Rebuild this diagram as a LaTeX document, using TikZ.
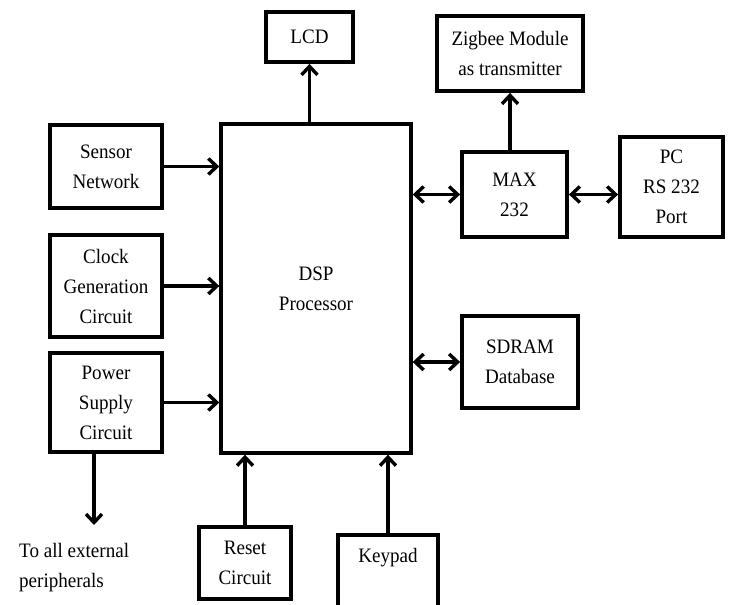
\documentclass[tikz,border=0pt]{standalone}
\usepackage{fontspec}
\setmainfont{Liberation Serif}[FakeStretch=0.93]
\usetikzlibrary{arrows.meta}
\begin{document}
\begin{tikzpicture}[x=1pt,y=-1pt,
  tip/.style={Straight Barb[length=8.5pt,width=16pt,line width=3.4pt]},
  box/.style={draw, line width=3.8pt, rectangle, align=center, inner sep=0pt,
    font=\fontsize{20.5}{30}\selectfont},
  conn/.style={line width=3.2pt, -{Straight Barb[length=8.5pt,width=16pt,line width=3.4pt]}},
  bconn/.style={line width=3.2pt, {Straight Barb[length=8.5pt,width=16pt,line width=3.4pt]}-{Straight Barb[length=8.5pt,width=16pt,line width=3.4pt]}},
  lbl/.style={align=left, inner sep=0pt, font=\fontsize{20.5}{30}\selectfont}]
\useasboundingbox (0,0) rectangle (729,605);
\fill[white] (0,0) rectangle (729,605);
\begin{scope}
\clip (0,0) rectangle (729,605);
\node[box, minimum width=87, minimum height=50] (lcd) at (309.5,37) {LCD};
\node[box, minimum width=146, minimum height=75] (zig) at (510,53.5) {Zigbee Module\\as transmitter};
\node[box, minimum width=112, minimum height=83] (sens) at (106,166.5) {Sensor\\Network};
\node[box, minimum width=112, minimum height=102] (clk) at (106,286) {Clock\\Generation\\Circuit};
\node[box, minimum width=112, minimum height=99] (pwr) at (106,402.5) {Power\\Supply\\Circuit};
\node[box, line width=3.4pt, minimum width=190, minimum height=329] (dsp) at (316,288.5) {DSP\\Processor};
\node[box, minimum width=105, minimum height=85] (max) at (514.5,194.5) {MAX\\232};
\node[box, minimum width=103, minimum height=100] (pc) at (671.5,187) {PC\\RS 232\\Port};
\node[box, minimum width=116, minimum height=92] (sdram) at (520,362) {SDRAM\\Database};
\node[box, minimum width=92, minimum height=72] (rst) at (245,563) {Reset\\Circuit};
\node[box, minimum width=100, anchor=north, inner ysep=13pt, text height=15pt, text depth=80pt] (key) at (388,533) {Keypad};
\node[lbl, anchor=west] (ext) at (19,568) {To all external\\peripherals};
\coordinate (pwrend) at (94,525);

\draw[conn] (lcd.south |- dsp.north) -- (lcd.south);
\draw[conn] (zig.south |- max.north) -- (zig.south);
\draw[conn] (sens.east) -- (sens.east -| dsp.west);
\draw[conn] (clk.east) -- (clk.east -| dsp.west);
\draw[conn] (pwr.east) -- (pwr.east -| dsp.west);
\draw[bconn] (max.west -| dsp.east) -- (max.west);
\draw[bconn] (max.east) -- (max.east -| pc.west);
\draw[bconn] (sdram.west -| dsp.east) -- (sdram.west);
\draw[conn] (rst.north) -- (rst.north |- dsp.south);
\draw[conn] (key.north) -- (key.north |- dsp.south);
\draw[conn] (pwrend |- pwr.south) -- (pwrend);
\end{scope}
\end{tikzpicture}
\end{document}
